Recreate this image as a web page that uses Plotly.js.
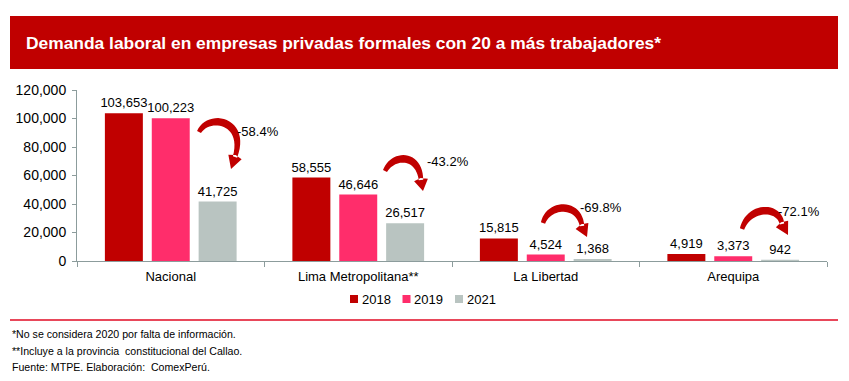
<!DOCTYPE html>
<html>
<head>
<meta charset="utf-8">
<script src="https://cdn.plot.ly/plotly-3.0.1.min.js"></script>
<style>
  html, body { margin: 0; padding: 0; background: #fff; }
  #chart { width: 849px; height: 381px; }
</style>
</head>
<body>
<div id="chart"></div>
<script>
// ---- data ----
const categories = ['Nacional', 'Lima Metropolitana**', 'La Libertad', 'Arequipa'];
const years = ['2018', '2019', '2021'];
const v2018 = [103653, 58555, 15815, 4919];
const v2019 = [100223, 46646, 4524, 3373];
const v2021 = [41725, 26517, 1368, 942];
const footnotes = [
  '*No se considera 2020 por falta de información.',
  '**Incluye a la provincia  constitucional del Callao.',
  'Fuente: MTPE. Elaboración:  ComexPerú.'
];
const titleText = 'Demanda laboral en empresas privadas formales con 20 a más trabajadores*';

// ---- style ----
const colors = ['#c00000', '#ff2d6b', '#b9c4c1'];
const W = 849, H = 381;
const M = { l: 77, r: 22, t: 90, b: 120 };
const plotW = W - M.l - M.r, plotH = H - M.t - M.b;
const FONT = 'Liberation Sans, Arial, sans-serif';
const AXIS = '#8c9c9c';

// pixel -> paper helpers (decorations only)
const px = x => (x - M.l) / plotW;
const py = y => (H - M.b - y) / plotH;

const series = [v2018, v2019, v2021];
const traces = series.map((vals, k) => ({
  type: 'bar',
  name: years[k],
  x: categories,
  y: vals,
  marker: { color: colors[k] },
  text: vals.map(v => v.toLocaleString('en-US')),
  textposition: 'outside',
  constraintext: 'none',
  textfont: { family: FONT, size: 13, color: '#000' },
  cliponaxis: false,
  showlegend: false,
  hoverinfo: 'x+y+name'
}));

// curved arrows (decoration geometry in pixels)
const arrows = [
  { t: [199, 132], c1: [209, 113], c2: [247, 120], b: [235, 157], tip: [231, 169], lab: [235, 131] },
  { t: [385, 171], c1: [393, 154], c2: [419, 153], b: [421, 180], tip: [423, 191], lab: [425, 161] },
  { t: [543, 223], c1: [549, 203], c2: [579, 202], b: [582, 226], tip: [587, 237], lab: [578, 207] },
  { t: [742, 229], c1: [749, 206], c2: [779, 205], b: [782, 224], tip: [788, 235], lab: [776, 211] }
];

function bez(a, b, c, d, t) {
  const u = 1 - t;
  return [
    u*u*u*a[0] + 3*u*u*t*b[0] + 3*u*t*t*c[0] + t*t*t*d[0],
    u*u*u*a[1] + 3*u*u*t*b[1] + 3*u*t*t*c[1] + t*t*t*d[1]
  ];
}
function arrowPath(A) {
  const n = 24, left = [], right = [];
  for (let i = 0; i <= n; i++) {
    const t = i / n;
    const p = bez(A.t, A.c1, A.c2, A.b, t);
    const q = bez(A.t, A.c1, A.c2, A.b, Math.min(1, t + 0.01));
    const r = bez(A.t, A.c1, A.c2, A.b, Math.max(0, t - 0.01));
    let dx = q[0] - r[0], dy = q[1] - r[1];
    const L = Math.hypot(dx, dy) || 1; dx /= L; dy /= L;
    const w = 1.5 + 2.3 * Math.sin(Math.PI * Math.min(1, t * 0.8 + 0.1));
    left.push([p[0] - dy * w, p[1] + dx * w]);
    right.push([p[0] + dy * w, p[1] - dx * w]);
  }
  const pts = left.concat(right.reverse());
  let d = 'M' + pts.map(p => px(p[0]).toFixed(5) + ',' + py(p[1]).toFixed(5)).join(' L') + ' Z';
  let dx = A.tip[0] - A.b[0], dy = A.tip[1] - A.b[1];
  const L = Math.hypot(dx, dy); dx /= L; dy /= L;
  const hw = 7;
  const b1 = [A.b[0] - dy * hw, A.b[1] + dx * hw];
  const b2 = [A.b[0] + dy * hw, A.b[1] - dx * hw];
  const back = [A.b[0] - dx * 2, A.b[1] - dy * 2];
  d += ' M' + [b1, A.tip, b2, back].map(p => px(p[0]).toFixed(5) + ',' + py(p[1]).toFixed(5)).join(' L') + ' Z';
  return d;
}

const shapes = [
  // title banner
  { type: 'rect', xref: 'paper', yref: 'paper', x0: px(10), x1: px(838), y0: py(69), y1: py(16),
    fillcolor: '#c00000', line: { width: 0 }, layer: 'below' },
  // separator line
  { type: 'line', xref: 'paper', yref: 'paper', x0: px(10), x1: px(838), y0: py(320), y1: py(320),
    line: { color: '#e8475a', width: 2 } }
];
arrows.forEach(A => shapes.push({
  type: 'path', xref: 'paper', yref: 'paper', path: arrowPath(A),
  fillcolor: '#c00000', line: { width: 0 }
}));

const annotations = [];
arrows.forEach((A, i) => {
  const pct = (v2021[i] / v2019[i] - 1) * 100;
  annotations.push({
    xref: 'paper', yref: 'paper', x: px(A.lab[0]), y: py(A.lab[1]),
    xanchor: 'left', yanchor: 'middle', showarrow: false,
    text: pct.toFixed(1) + '%',
    font: { family: FONT, size: 13, color: '#000' }
  });
});

// compact legend (squares + text)
const legX0 = 350, legStep = 52.5, legY = 299;
years.forEach((yr, k) => {
  const x = legX0 + k * legStep;
  shapes.push({ type: 'rect', xref: 'paper', yref: 'paper',
    x0: px(x), x1: px(x + 8), y0: py(legY + 4), y1: py(legY - 4),
    fillcolor: colors[k], line: { width: 0 } });
  annotations.push({ xref: 'paper', yref: 'paper', x: px(x + 9.5), y: py(legY),
    xanchor: 'left', yanchor: 'middle', showarrow: false, text: yr,
    font: { family: FONT, size: 13, color: '#000' } });
});

const fnY = [334, 351, 367];
footnotes.forEach((t, i) => annotations.push({
  xref: 'paper', yref: 'paper', x: px(10), y: py(fnY[i]),
  xanchor: 'left', yanchor: 'middle', showarrow: false, text: t,
  font: { family: FONT, size: 10.6, color: '#000' }
}));

const layout = {
  width: W, height: H,
  margin: M,
  paper_bgcolor: '#fff', plot_bgcolor: '#fff',
  font: { family: FONT, size: 13, color: '#000' },
  title: {
    text: titleText, xref: 'container', yref: 'container',
    x: 26 / W, xanchor: 'left', y: 1 - 43 / H, yanchor: 'middle',
    font: { family: FONT, size: 17.4, color: '#fff', weight: 700 }
  },
  barmode: 'group', bargap: 0.25, bargroupgap: 0.19,
  showlegend: false,
  xaxis: {
    type: 'category', showline: true, linecolor: AXIS, linewidth: 1,
    ticks: 'outside', tickson: 'boundaries', ticklen: 5, tickcolor: AXIS,
    ticklabelstandoff: 3,
    showgrid: false, zeroline: false,
    tickfont: { family: FONT, size: 13, color: '#000' }
  },
  yaxis: {
    range: [0, 120000], dtick: 20000, tickformat: ',', showline: true,
    linecolor: AXIS, linewidth: 1, ticks: 'outside', ticklen: 4, tickcolor: AXIS,
    ticklabelstandoff: 3,
    showgrid: false, zeroline: false,
    tickfont: { family: FONT, size: 14, color: '#000' }
  },
  shapes: shapes,
  annotations: annotations
};

Plotly.newPlot('chart', traces, layout, { displayModeBar: false, staticPlot: true });
</script>
</body>
</html>
